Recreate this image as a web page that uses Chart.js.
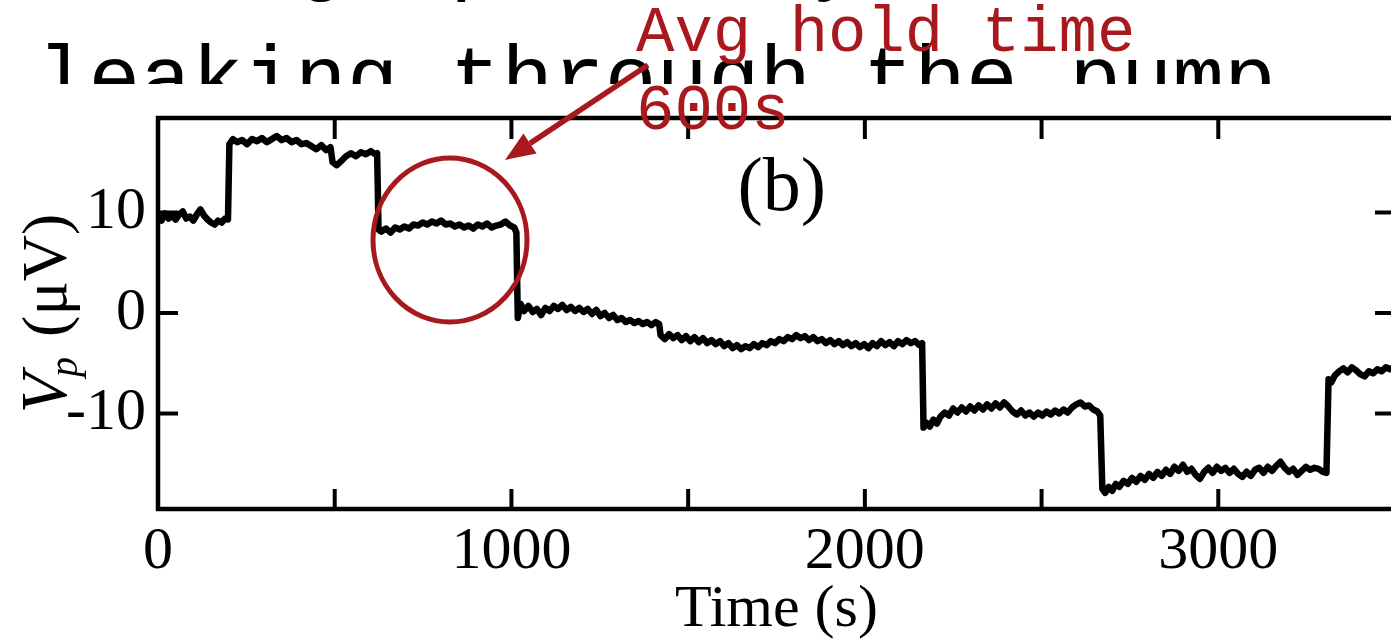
<!DOCTYPE html>
<html><head><meta charset="utf-8">
<script src="https://cdn.jsdelivr.net/npm/chart.js@4.4.1/dist/chart.umd.min.js"></script>
<style>
html,body{margin:0;padding:0;background:#fff;width:1391px;height:641px;overflow:hidden;position:relative;}
svg,canvas{position:absolute;left:0;top:0;}
</style></head>
<body>
<svg id="under" width="1391" height="641">
  <defs><clipPath id="cut"><rect x="0" y="0" width="1391" height="84"/></clipPath></defs>
  <g clip-path="url(#cut)" font-family="Liberation Mono, monospace" font-size="86" fill="#000">
    <text id="line1" x="37" y="-16" xml:space="preserve"></text>
    <text id="line2" x="37" y="105" xml:space="preserve"></text>
  </g>
</svg>
<canvas id="c" width="1420" height="641"></canvas>
<svg id="over" width="1391" height="641">
  <ellipse cx="450" cy="240" rx="77" ry="82" fill="none" stroke="#a8191e" stroke-width="5"/>
  <line x1="648" y1="65" x2="530" y2="143.4" stroke="#a8191e" stroke-width="5.5"/>
  <polygon points="505,160 536.6,153.4 523.4,133.4" fill="#a8191e"/>
  <g font-family="Liberation Mono, monospace" font-size="64" fill="#a8191e">
    <text id="note1" x="636" y="51" xml:space="preserve"></text>
    <text id="note2" x="636" y="129" xml:space="preserve"></text>
  </g>
</svg>
<script>
// ---- slide text ----
const slideLine1 = "Voltage probably due to charge";
const slideLine2 = "leaking through the pump";
const noteLine1 = "Avg hold time";
const noteLine2 = "600s";
const panelLabel = "(b)";
const xTitle = "Time (s)";

// ---- axis ticks ----
const xTickValues = [0, 500, 1000, 1500, 2000, 2500, 3000, 3500];
const xLabelValues = [0, 1000, 2000, 3000];
const yTickValues = [-10, 0, 10];

// ---- data: time (s) and Vp (uV) ----
const times = [
 0,10,20,30,40,50,60,70,80,90,100,110,120,130,140,150,160,170,180,190,198,
 202,212,224,238,252,266,280,294,308,322,336,350,364,378,392,406,420,434,448,462,476,488,
 494,506,518,532,546,560,574,588,602,614,620,
 624,632,645,658,671,684,697,710,723,736,749,762,775,788,801,814,827,840,853,866,879,892,905,918,931,944,957,970,983,996,1008,1014,
 1018,1026,1036,1048,1060,1072,1084,1096,1108,1120,1132,1144,1156,1168,1180,1192,1204,1216,1228,1240,1252,1264,1276,1288,1300,1312,1324,1336,1348,1360,1372,1384,1396,1408,1418,
 1422,1434,1446,1458,1470,1482,1494,1506,1518,1530,1542,1554,1566,1578,1590,1602,1614,1626,1638,1650,1662,1674,1686,1698,1710,1722,1734,1746,1758,1770,1782,1794,1806,1818,1830,1842,1854,1866,1878,1890,1902,1914,1926,1938,1950,1962,1974,1986,1998,2010,2022,2034,2046,2058,2070,2082,2094,2106,2118,2130,2142,2154,2162,
 2166,2174,2184,2194,2204,2214,2226,2238,2250,2262,2274,2286,2298,2310,2322,2334,2346,2358,2370,2382,2394,2406,2418,2430,2442,2454,2466,2478,2490,2502,2514,2526,2538,2550,2562,2574,2586,2598,2610,2622,2634,2646,2658,2666,
 2672,2680,2690,2700,2710,2720,2732,2744,2756,2768,2780,2792,2804,2816,2828,2840,2852,2864,2876,2888,2900,2912,2924,2936,2948,2960,2972,2984,2996,3008,3020,3032,3044,3056,3068,3080,3092,3104,3116,3128,3140,3152,3164,3176,3188,3200,3212,3224,3236,3248,3260,3272,3284,3296,3306,
 3312,3320,3330,3342,3354,3366,3378,3390,3402,3414,3426,3438,3450,3462,3474,3486,3500
];
const voltages = [
 9.6,9.2,9.9,9.4,9.7,9.3,9.8,10.1,9.4,9.6,9.2,9.8,10.3,9.7,9.3,9.0,8.8,9.2,9.0,9.4,9.3,
 16.8,17.3,17.0,17.2,16.8,17.3,17.1,17.4,17.0,17.3,17.6,17.2,17.4,17.0,17.2,16.8,16.9,16.6,16.3,16.7,16.2,16.5,
 15.0,14.7,15.1,15.6,15.9,15.6,16.0,15.8,16.1,15.8,15.9,
 8.3,8.1,8.4,8.0,8.5,8.3,8.6,8.4,8.8,8.7,9.0,8.8,9.1,8.9,9.2,8.8,8.9,8.6,8.8,8.5,8.7,8.4,8.8,8.6,8.9,8.5,8.7,8.8,9.1,8.7,8.5,8.0,
 -0.5,0.9,0.2,0.7,0.1,0.4,-0.2,0.5,0.2,0.7,0.4,0.8,0.3,0.6,0.2,0.5,0.1,0.4,-0.1,0.3,-0.3,0.0,-0.5,-0.2,-0.7,-0.5,-0.9,-0.7,-1.0,-0.8,-1.1,-0.9,-1.2,-0.9,-1.1,
 -2.2,-2.6,-2.1,-2.5,-2.2,-2.7,-2.3,-2.8,-2.4,-2.9,-2.5,-3.0,-2.7,-3.1,-2.8,-3.3,-3.0,-3.5,-3.2,-3.6,-3.3,-3.5,-3.1,-3.4,-3.0,-3.2,-2.8,-3.0,-2.6,-2.8,-2.4,-2.6,-2.2,-2.5,-2.3,-2.7,-2.4,-2.8,-2.6,-3.0,-2.7,-3.1,-2.8,-3.2,-2.9,-3.3,-3.0,-3.4,-3.1,-3.5,-3.0,-3.3,-2.8,-3.2,-2.9,-3.3,-2.8,-3.1,-2.7,-3.0,-2.8,-3.2,-3.0,
 -11.4,-10.9,-11.3,-10.6,-11.0,-10.3,-9.9,-10.2,-9.5,-9.9,-9.4,-9.8,-9.3,-9.7,-9.2,-9.6,-9.1,-9.5,-9.0,-9.4,-8.9,-9.3,-9.8,-10.1,-9.7,-10.2,-9.9,-10.3,-9.9,-10.2,-9.8,-10.1,-9.7,-10.0,-9.6,-9.9,-9.4,-9.1,-8.9,-9.3,-9.2,-9.6,-9.8,-10.2,
 -17.5,-17.9,-17.3,-17.7,-17.0,-17.3,-16.7,-17.0,-16.4,-16.8,-16.2,-16.6,-16.0,-16.4,-15.8,-16.2,-15.6,-16.0,-15.3,-15.7,-15.1,-15.8,-15.5,-16.1,-16.5,-15.8,-15.4,-15.9,-15.3,-15.7,-15.4,-15.9,-15.5,-16.0,-16.3,-15.8,-16.2,-15.6,-15.4,-15.9,-15.3,-15.7,-15.2,-14.8,-15.4,-15.8,-15.5,-16.1,-15.7,-15.3,-15.6,-15.4,-15.5,-15.8,-15.9,
 -6.6,-6.9,-6.2,-5.8,-5.5,-5.9,-5.4,-5.7,-6.1,-6.3,-5.8,-6.0,-5.6,-5.8,-5.4,-5.6,-5.3
];

document.getElementById('line1').textContent = slideLine1;
document.getElementById('line2').textContent = slideLine2;
document.getElementById('note1').textContent = noteLine1;
document.getElementById('note2').textContent = noteLine2;

const SERIF = '"Liberation Serif", "Times New Roman", serif';

const framePlugin = {
  id: 'frame',
  afterDatasetsDraw(chart) {
    const {ctx, chartArea: a, scales: {x, y}} = chart;
    ctx.save();
    ctx.strokeStyle = '#000';
    ctx.lineWidth = 4.5;
    ctx.strokeRect(a.left, a.top, a.right - a.left, a.bottom - a.top);
    ctx.lineWidth = 4;
    const seg = (x1, y1, x2, y2) => { ctx.beginPath(); ctx.moveTo(x1, y1); ctx.lineTo(x2, y2); ctx.stroke(); };
    x.ticks.forEach(t => {
      if (t.value <= x.min || t.value >= x.max) return;
      const px = x.getPixelForValue(t.value);
      seg(px, a.bottom, px, a.bottom - 20);
      seg(px, a.top, px, a.top + 21);
    });
    y.ticks.forEach(t => {
      const py = y.getPixelForValue(t.value);
      seg(a.left, py, a.left + 20, py);
      seg(a.right, py, a.right - 20, py);
    });
    // panel label
    ctx.fillStyle = '#000';
    ctx.font = '76px ' + SERIF;
    ctx.textAlign = 'center';
    ctx.textBaseline = 'alphabetic';
    ctx.fillText(panelLabel, x.getPixelForValue(1765), 210);
    // y-axis title: V_p (μV)
    ctx.translate(66, (a.top + a.bottom) / 2);
    ctx.rotate(-Math.PI / 2);
    ctx.textAlign = 'left';
    const fV = 'italic 66px ' + SERIF, fP = 'italic 40px ' + SERIF, fR = '64px ' + SERIF;
    ctx.font = fV; const wV = ctx.measureText('V').width;
    ctx.font = fP; const wP = ctx.measureText('p').width;
    ctx.font = fR; const wR = ctx.measureText(' (μV)').width;
    let sx = -(wV + wP + wR) / 2;
    ctx.font = fV; ctx.fillText('V', sx, 0);
    ctx.font = fP; ctx.fillText('p', sx + wV - 4, 11);
    ctx.font = fR; ctx.fillText(' (μV)', sx + wV + wP, 0);
    ctx.restore();
  }
};

new Chart(document.getElementById('c'), {
  type: 'line',
  data: {
    datasets: [{
      data: times.map((t, i) => ({x: t, y: voltages[i]})),
      borderColor: '#000',
      borderWidth: 6.5,
      pointRadius: 0,
      tension: 0,
      borderJoinStyle: 'round',
      fill: false
    }]
  },
  options: {
    responsive: false,
    animation: false,
    devicePixelRatio: 1,
    layout: {padding: {left: 0, right: 25, top: 118, bottom: 0}},
    plugins: {legend: {display: false}, tooltip: {enabled: false}},
    scales: {
      x: {
        type: 'linear', min: 0, max: 3500,
        grid: {display: false, drawTicks: false},
        border: {display: false},
        afterBuildTicks: s => { s.ticks = xTickValues.map(v => ({value: v})); },
        afterFit: s => { s.height = 132; },
        ticks: {
          autoSkip: false, maxRotation: 0, padding: 7, color: '#000',
          font: {family: SERIF, size: 60},
          callback: v => xLabelValues.includes(v) ? String(v) : ''
        },
        title: {display: true, text: xTitle, color: '#000', font: {family: SERIF, size: 60, lineHeight: 1}, padding: {top: 0, bottom: 1}}
      },
      y: {
        type: 'linear', min: -19.5, max: 19.4,
        grid: {display: false, drawTicks: false},
        border: {display: false},
        afterBuildTicks: s => { s.ticks = yTickValues.map(v => ({value: v})); },
        afterFit: s => { s.width = 158; },
        ticks: {padding: 12, color: '#000', font: {family: SERIF, size: 60}, callback: v => String(v)}
      }
    }
  },
  plugins: [framePlugin]
});
</script>
</body></html>
